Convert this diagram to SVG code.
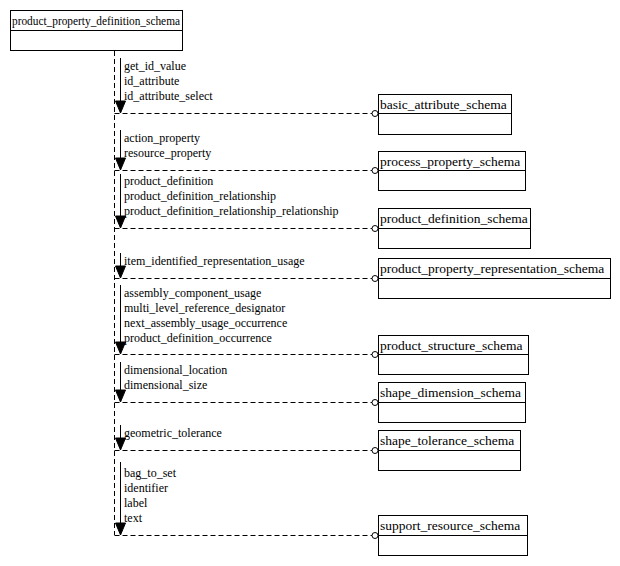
<svg xmlns="http://www.w3.org/2000/svg" width="620" height="566" viewBox="0 0 620 566">
<style>
.b{fill:#fff;stroke:#000;stroke-width:1}
.t{font-family:'Liberation Serif','Times New Roman','DejaVu Serif',serif;font-size:13.5px;fill:#000}
.l{font-family:'Liberation Serif','Times New Roman','DejaVu Serif',serif;font-size:12px;fill:#000}
.d{stroke:#000;stroke-dasharray:5,3;fill:none}
.a{stroke:#000;fill:none}
</style>
<g id="main"><rect class="b" x="10.5" y="10.5" width="172" height="40"/><line class="a" x1="10.5" y1="30.5" x2="182.5" y2="30.5"/><text class="t" x="12" y="25" textLength="168" lengthAdjust="spacingAndGlyphs">product_property_definition_schema</text></g>
<g id="connectors">
<line class="d" x1="114.5" y1="51" x2="114.5" y2="535"/>
<g class="a">
<line x1="120.5" y1="58" x2="120.5" y2="101"/><path d="M115.5,101 L125.5,101 L120.5,113 Z" fill="#000"/>
<line x1="120.5" y1="130" x2="120.5" y2="158"/><path d="M115.5,158 L125.5,158 L120.5,170 Z" fill="#000"/>
<line x1="120.5" y1="174" x2="120.5" y2="216"/><path d="M115.5,216 L125.5,216 L120.5,228 Z" fill="#000"/>
<line x1="120.5" y1="253" x2="120.5" y2="266"/><path d="M115.5,266 L125.5,266 L120.5,278 Z" fill="#000"/>
<line x1="120.5" y1="285" x2="120.5" y2="342"/><path d="M115.5,342 L125.5,342 L120.5,354 Z" fill="#000"/>
<line x1="120.5" y1="362" x2="120.5" y2="390"/><path d="M115.5,390 L125.5,390 L120.5,402 Z" fill="#000"/>
<line x1="120.5" y1="425" x2="120.5" y2="438"/><path d="M115.5,438 L125.5,438 L120.5,450 Z" fill="#000"/>
<line x1="120.5" y1="462" x2="120.5" y2="523"/><path d="M115.5,523 L125.5,523 L120.5,535 Z" fill="#000"/>
</g>
<g class="d">
<line x1="114.5" y1="113.5" x2="372" y2="113.5"/><line x1="114.5" y1="170.5" x2="372" y2="170.5"/>
<line x1="114.5" y1="228.5" x2="372" y2="228.5"/><line x1="114.5" y1="278.5" x2="372" y2="278.5"/>
<line x1="114.5" y1="354.5" x2="372" y2="354.5"/><line x1="114.5" y1="402.5" x2="372" y2="402.5"/>
<line x1="114.5" y1="450.5" x2="372" y2="450.5"/><line x1="114.5" y1="535.5" x2="372" y2="535.5"/>
</g>
<g class="a" fill="#fff">
<circle cx="375" cy="113.5" r="3"/><circle cx="375" cy="170.5" r="3"/><circle cx="375" cy="228.5" r="3"/><circle cx="375" cy="278.5" r="3"/>
<circle cx="375" cy="354.5" r="3"/><circle cx="375" cy="402.5" r="3"/><circle cx="375" cy="450.5" r="3"/><circle cx="375" cy="535.5" r="3"/>
</g>
<g class="l">
<text x="124" y="70">get_id_value</text><text x="124" y="85">id_attribute</text><text x="124" y="100">id_attribute_select</text>
<text x="124" y="142">action_property</text><text x="124" y="157">resource_property</text>
<text x="124" y="185">product_definition</text><text x="124" y="200">product_definition_relationship</text><text x="124" y="215">product_definition_relationship_relationship</text>
<text x="124" y="265">item_identified_representation_usage</text>
<text x="124" y="297">assembly_component_usage</text><text x="124" y="312">multi_level_reference_designator</text><text x="124" y="327">next_assembly_usage_occurrence</text><text x="124" y="342">product_definition_occurrence</text>
<text x="124" y="374">dimensional_location</text><text x="124" y="389">dimensional_size</text>
<text x="124" y="437">geometric_tolerance</text>
<text x="124" y="477">bag_to_set</text><text x="124" y="492">identifier</text><text x="124" y="507">label</text><text x="124" y="522">text</text>
</g>
</g>
<g id="basic_attribute_schema"><rect class="b" x="378.5" y="94.5" width="133" height="40"/><line class="a" x1="378.5" y1="113.5" x2="511.5" y2="113.5"/><text class="t" x="380" y="109">basic_attribute_schema</text></g>
<g id="process_property_schema"><rect class="b" x="378.5" y="151.5" width="147" height="39"/><line class="a" x1="378.5" y1="170.5" x2="525.5" y2="170.5"/><text class="t" x="380" y="166">process_property_schema</text></g>
<g id="product_definition_schema"><rect class="b" x="378.5" y="208.5" width="152" height="40"/><line class="a" x1="378.5" y1="228.5" x2="530.5" y2="228.5"/><text class="t" x="380" y="223">product_definition_schema</text></g>
<g id="product_property_representation_schema"><rect class="b" x="378.5" y="258.5" width="232" height="40"/><line class="a" x1="378.5" y1="278.5" x2="610.5" y2="278.5"/><text class="t" x="380" y="273">product_property_representation_schema</text></g>
<g id="product_structure_schema"><rect class="b" x="378.5" y="335.5" width="150" height="39"/><line class="a" x1="378.5" y1="354.5" x2="528.5" y2="354.5"/><text class="t" x="380" y="350">product_structure_schema</text></g>
<g id="shape_dimension_schema"><rect class="b" x="378.5" y="382.5" width="147" height="40"/><line class="a" x1="378.5" y1="402.5" x2="525.5" y2="402.5"/><text class="t" x="380" y="397">shape_dimension_schema</text></g>
<g id="shape_tolerance_schema"><rect class="b" x="378.5" y="430.5" width="142" height="40"/><line class="a" x1="378.5" y1="450.5" x2="520.5" y2="450.5"/><text class="t" x="380" y="445">shape_tolerance_schema</text></g>
<g id="support_resource_schema"><rect class="b" x="378.5" y="515.5" width="149" height="40"/><line class="a" x1="378.5" y1="535.5" x2="527.5" y2="535.5"/><text class="t" x="380" y="530">support_resource_schema</text></g>
</svg>
